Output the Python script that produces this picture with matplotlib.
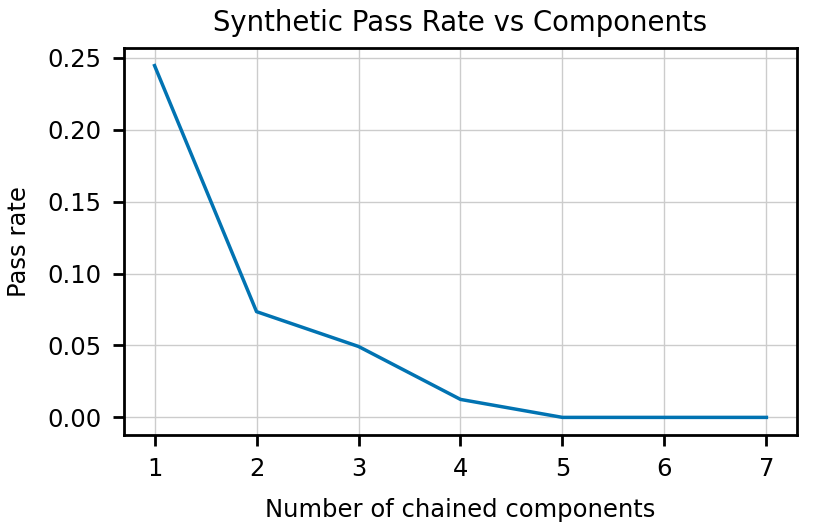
import matplotlib
matplotlib.use("Agg")
import matplotlib.pyplot as plt

# --- data ---
components = [1, 2, 3, 4, 5, 6, 7]
pass_rate = [0.2445, 0.0735, 0.0493, 0.0125, 0.0, 0.0, 0.0]

fig = plt.figure(figsize=(8.14, 5.22), dpi=100)
ax = fig.add_axes([0.1523, 0.1667, 0.8268, 0.7413])

ax.plot(components, pass_rate, color="#0173b2", lw=2.5)

ax.grid(True, color="#cccccc", lw=1)
ax.set_axisbelow(True)
for s in ax.spines.values():
    s.set_linewidth(2)
ax.tick_params(axis="both", direction="out", length=8, width=2, labelsize=17.5, pad=8)

ax.set_title("Synthetic Pass Rate vs Components", fontsize=19.8, pad=12)
ax.set_xlabel("Number of chained components", fontsize=17.5, labelpad=12)
ax.set_ylabel("Pass rate", fontsize=17.5, labelpad=12)
ax.set_xticks(components)
ax.set_yticks([0.0, 0.05, 0.10, 0.15, 0.20, 0.25])
ax.yaxis.set_major_formatter(matplotlib.ticker.FormatStrFormatter("%.2f"))

fig.savefig("out.png", dpi=100)
